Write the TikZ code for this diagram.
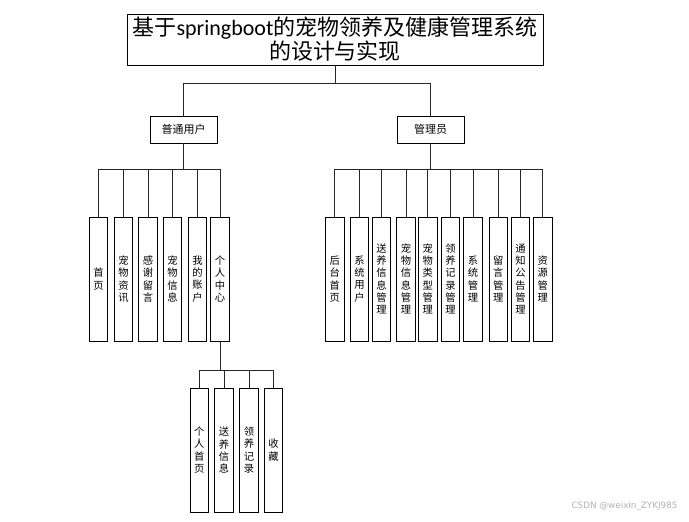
\documentclass[tikz,border=0pt]{standalone}
\usepackage{fontspec}
\newfontfamily\cjk{Noto Sans CJK SC}
\newfontfamily\lat{Carlito}
\newfontfamily\wm{DejaVu Sans}
\begin{document}
\begin{tikzpicture}[x=1pt,y=-1pt,
  box/.style={draw=black,line width=0.9pt,inner sep=0pt,font=\cjk},
  leaf/.style={box,minimum width=18.5pt,minimum height=124pt,align=center,font=\cjk\fontsize{10.3}{12.3}\selectfont},
  mid/.style={box,minimum width=67pt,minimum height=27pt,font=\cjk\fontsize{11}{13}\selectfont},
  conn/.style={draw=black!85,line width=0.9pt}]
\useasboundingbox (0,0) rectangle (689,522);
\node[box,minimum width=416pt,minimum height=51pt,align=center,font=\cjk\fontsize{22}{24}\selectfont] (t) at (335,39.5) {基于{\lat springboot}的宠物领养及健康管理系统\\的设计与实现};
\node[mid] (u) at (183.5,129.5) {普通用户};
\node[mid] (a) at (430.5,129.5) {管理员};
\coordinate (b0) at (0,83.3);
\coordinate (b1) at (0,169);
\coordinate (b2) at (0,370.7);
% user leaves
\node[leaf] (u1) at (98.5,279) {首\\页};
\node[leaf] (u2) at (123.5,279) {宠\\物\\资\\讯};
\node[leaf] (u3) at (148,279) {感\\谢\\留\\言};
\node[leaf] (u4) at (172.5,279) {宠\\物\\信\\息};
\node[leaf] (u5) at (197.5,279) {我\\的\\账\\户};
\node[leaf] (u6) at (220,279) {个\\人\\中\\心};
% admin leaves
\node[leaf] (a1) at (334.8,279) {后\\台\\首\\页};
\node[leaf] (a2) at (359.5,279) {系\\统\\用\\户};
\node[leaf] (a3) at (381.5,279) {送\\养\\信\\息\\管\\理};
\node[leaf] (a4) at (406,279) {宠\\物\\信\\息\\管\\理};
\node[leaf] (a5) at (427.7,279) {宠\\物\\类\\型\\管\\理};
\node[leaf] (a6) at (450.5,279) {领\\养\\记\\录\\管\\理};
\node[leaf] (a7) at (473,279) {系\\统\\管\\理};
\node[leaf] (a8) at (498.3,279) {留\\言\\管\\理};
\node[leaf] (a9) at (520.5,279) {通\\知\\公\\告\\管\\理};
\node[leaf] (a10) at (542.7,279) {资\\源\\管\\理};
% personal centre leaves
\node[leaf] (p1) at (199.2,450.2) {个\\人\\首\\页};
\node[leaf] (p2) at (224,450.2) {送\\养\\信\\息};
\node[leaf] (p3) at (249,450.2) {领\\养\\记\\录};
\node[leaf] (p4) at (273.5,450.2) {收\\藏};
% connectors
\foreach \n in {u,a} \draw[conn] (t.south) |- (\n.north |- b0) -- (\n.north);
\foreach \n in {u1,u2,u3,u4,u5,u6} \draw[conn] (u.south) |- (\n.north |- b1) -- (\n.north);
\foreach \n in {a1,a2,a3,a4,a5,a6,a7,a8,a9,a10} \draw[conn] (a.south) |- (\n.north |- b1) -- (\n.north);
\foreach \n in {p1,p2,p3,p4} \draw[conn] (u6.south) |- (\n.north |- b2) -- (\n.north);
\node[font=\wm\fontsize{8.8}{10}\selectfont,text=black!30,anchor=east] (w) at (681,506) {CSDN @weixin\_ZYKJ985};
\end{tikzpicture}
\end{document}
